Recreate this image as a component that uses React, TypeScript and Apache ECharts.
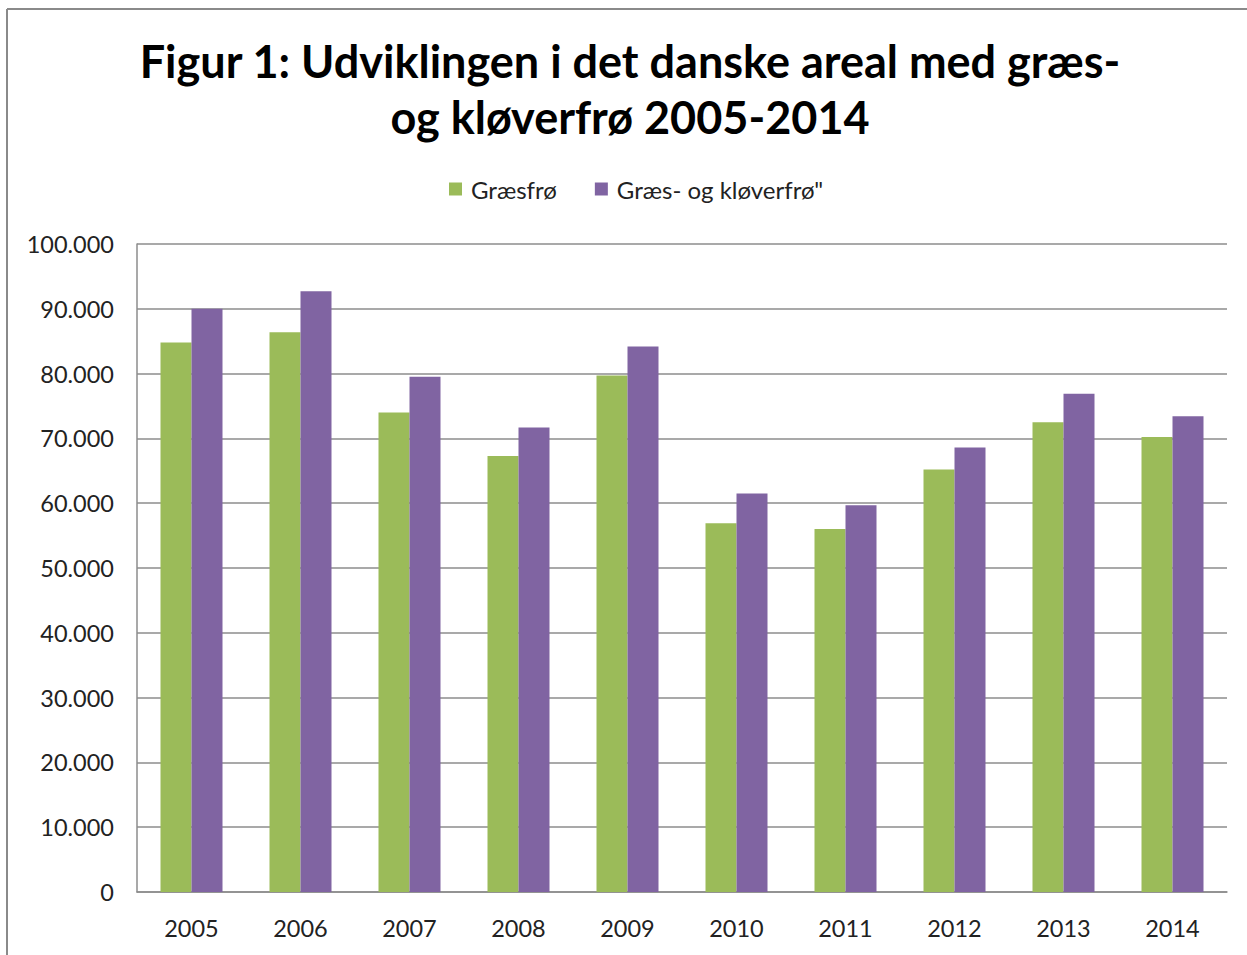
import React, { useEffect, useRef } from "react";
import * as echarts from "echarts";

const years = ["2005", "2006", "2007", "2008", "2009", "2010", "2011", "2012", "2013", "2014"];
const graesfroe = [84800, 86400, 74000, 67300, 79700, 56900, 56000, 65200, 72500, 70200];
const graesKloever = [90000, 92700, 79500, 71700, 84200, 61500, 59700, 68600, 76900, 73400];
const seriesNames = ["Græsfrø", 'Græs- og kløverfrø"'];
const titleLines = ["Figur 1: Udviklingen i det danske areal med græs-", "og kløverfrø 2005-2014"];

const fmt = (v: number) => {
  const s = String(Math.round(v));
  return s.replace(/\B(?=(\d{3})+(?!\d))/g, ".");
};

export default function App() {
  const ref = useRef<HTMLDivElement>(null);
  useEffect(() => {
    if (!ref.current) return;
    const chart = echarts.init(ref.current, null, { renderer: "svg" });
    const font = "Lato, 'Open Sans', sans-serif";
    chart.setOption({
      animation: false,
      backgroundColor: "#ffffff",
      title: {
        text: titleLines.join("\n"),
        left: 625,
        textAlign: "center",
        top: 28,
        textStyle: {
          fontFamily: font,
          fontWeight: "bold",
          fontSize: 45,
          lineHeight: 56,
          color: "#000000",
        },
      },
      legend: {
        top: 172,
        left: 444,
        itemWidth: 13,
        itemHeight: 13,
        itemGap: 38,
        icon: "rect",
        textStyle: { fontFamily: font, fontSize: 24, color: "#222222", padding: [0, 0, 0, 4] },
        data: seriesNames,
      },
      grid: { left: 137, right: 20, top: 244, bottom: 63, containLabel: false },
      xAxis: {
        type: "category",
        data: years,
        axisLine: { show: true, lineStyle: { color: "#8c8c8c", width: 1.5 } },
        axisTick: { show: false },
        axisLabel: { fontFamily: font, fontSize: 23.5, color: "#222222", margin: 24 },
      },
      yAxis: {
        type: "value",
        min: 0,
        max: 100000,
        interval: 10000,
        axisLine: { show: true, lineStyle: { color: "#8c8c8c", width: 1.5 } },
        axisTick: { show: false },
        splitLine: { show: true, lineStyle: { color: "#8c8c8c", width: 1.5 } },
        axisLabel: {
          fontFamily: font,
          fontSize: 23.5,
          color: "#222222",
          margin: 23,
          formatter: (v: number) => fmt(v),
        },
      },
      series: [
        {
          name: seriesNames[0],
          type: "bar",
          data: graesfroe,
          barWidth: 31,
          barGap: "0%",
          itemStyle: { color: "#9BBB59" },
        },
        {
          name: seriesNames[1],
          type: "bar",
          data: graesKloever,
          barWidth: 31,
          barGap: "0%",
          itemStyle: { color: "#8064A2" },
        },
      ],
      graphic: [
        {
          type: "line",
          shape: { x1: 7, y1: 9, x2: 7, y2: 955 },
          style: { stroke: "#8a8a8a", lineWidth: 2 },
        },
        {
          type: "line",
          shape: { x1: 7, y1: 9, x2: 1247, y2: 9 },
          style: { stroke: "#8a8a8a", lineWidth: 2 },
        },
      ],
    });
    return () => chart.dispose();
  }, []);
  return (
    <div
      ref={ref}
      style={{ position: "absolute", left: 0, top: 0, width: 1247, height: 955 }}
    />
  );
}
